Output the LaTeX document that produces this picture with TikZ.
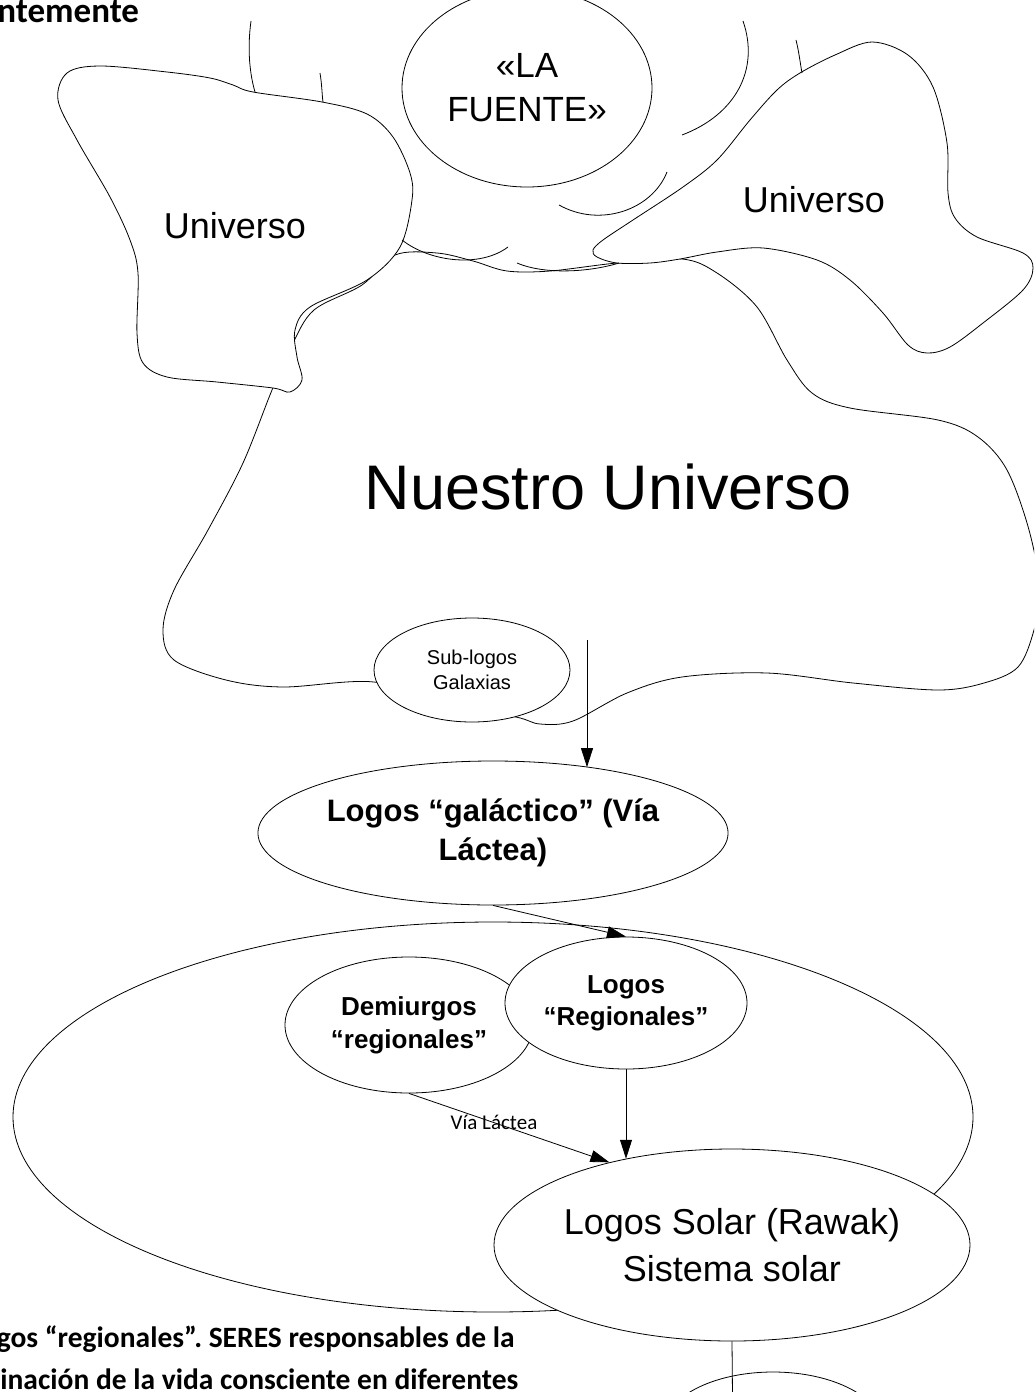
\documentclass[tikz,border=0pt]{standalone}
\usepackage{fontspec}
\setmainfont{Liberation Sans}
\newfontfamily\calib{Carlito}
\usetikzlibrary{shapes.geometric,arrows.meta}
\frenchspacing
\begin{document}
\begin{tikzpicture}[x=1pt,y=-1pt,line width=0.8pt,
  oval/.style={ellipse, draw, fill=white, inner sep=0pt, align=center},
  blob/.style={draw, fill=white},
  arr/.style={-{Triangle[length=19pt,width=12pt]}},
  bigtxt/.style={font=\fontsize{36}{40}\selectfont},
]
\useasboundingbox (0,0) rectangle (1034,1392);
\clip (0,0) rectangle (1034,1392);

% Nuestro Universo outline
\draw plot[smooth cycle, tension=0.55] coordinates {(395,255) (437,253) (473,261) (507,271) (550,271) (617,263) (682,259) (717,273) (757,307) (787,360) (812,393) (850,408) (938,420) (978,437) (1007,470) (1029,530) (1040,590) (1034,630) (1018,667) (984,683) (938,690) (853,683) (767,673) (682,677) (627,693) (573,721) (540,724) (516,717) (450,705) (374,682) (283,687) (226,680) (174,660) (163,630) (174,590) (208,530) (243,463) (272,390) (292,345) (314,310) (362,285)};

% left Universo
\draw[blob] plot[smooth cycle, tension=0.55] coordinates {(100,66) (167,72) (210,78) (233,85) (253,92) (322,102) (367,114) (393,137) (410,173) (412,200) (400,247) (367,280) (310,307) (295,330) (297,357) (302,380) (290,392) (273,388) (217,382) (167,377) (143,363) (137,333) (138,273) (130,240) (110,197) (77,140) (58,100) (67,73)};

% right Universo
\draw[blob] plot[smooth cycle, tension=0.55] coordinates {(800,73) (835,55) (872,42) (908,55) (933,87) (947,143) (948,193) (955,218) (977,237) (1023,253) (1033,268) (1023,290) (983,323) (950,347) (927,353) (908,345) (883,313) (850,280) (817,260) (763,248) (717,252) (680,259) (650,263) (617,263) (597,257) (593,250) (603,240) (633,220) (683,187) (717,160) (750,120) (777,90)};

% loose arcs around the source
\draw (251,21) .. controls (247,50) and (250,75) .. (255,92);
\draw (320,73) .. controls (322,85) and (322,95) .. (323,102);
\draw (796,40) .. controls (799,52) and (800,62) .. (802,73);
\draw (743,21) .. controls (760,70) and (735,115) .. (682,135);
\draw (667,172) .. controls (652,210) and (600,228) .. (559,205);
\draw (402,240) .. controls (430,262) and (480,268) .. (508,247);
\draw (517,263) .. controls (545,275) and (590,272) .. (619,263);

% nodes
\node[oval, minimum width=250pt, minimum height=198pt, font=\fontsize{35}{44}\selectfont] (fuente) at (527,88) {«LA\\FUENTE»};
\node[bigtxt] (uleft) at (235,226) {Universo};
\node[bigtxt] (uright) at (814,200) {Universo};
\node[font=\fontsize{63}{70}\selectfont] (nuestro) at (608,487) {Nuestro Universo};
\node[oval, minimum width=196pt, minimum height=104pt, font=\fontsize{20}{25}\selectfont] (sublogos) at (472,670) {Sub-logos\\Galaxias};
\coordinate (a0) at (587,640);
\node[oval, minimum width=416pt, minimum height=144pt, font=\bfseries\fontsize{31}{39}\selectfont] (galactico) at (493,833) {Logos “galáctico” (Vía\\Láctea)};
\node[ellipse, draw, inner sep=0pt, minimum width=960pt, minimum height=390pt] (via) at (493,1117) {};
\node[oval, minimum width=248pt, minimum height=136pt, font=\bfseries\fontsize{26}{33}\selectfont] (demiurgos) at (409,1025) {Demiurgos\\“regionales”};
\node[oval, minimum width=242pt, minimum height=132pt, font=\bfseries\fontsize{26}{32}\selectfont] (regionales) at (626,1003) {Logos\\“Regionales”};
\node[oval, minimum width=476pt, minimum height=192pt, font=\fontsize{36}{47}\selectfont] (solar) at (732,1245) {Logos Solar (Rawak)\\Sistema solar};
\node[ellipse, draw, inner sep=0pt, minimum width=220pt, minimum height=116pt] (next) at (773,1430) {};
\coordinate (a5) at (733,1450);

% connectors
\draw[arr] (a0) -- (a0 |- galactico.34);
\draw[arr] (galactico.south) -- (regionales.north);
\draw[arr] (regionales.south) -- (regionales.south |- solar.141);
\draw[arr] (demiurgos.south) -- (solar.146);
\node[font=\calib\fontsize{21}{24}\selectfont] (vialabel) at (494,1122) {Vía Láctea};
\draw[arr] (solar.south) -- (a5);

% cut-off page text
\node[anchor=base west, inner sep=0pt, font=\calib\bfseries\fontsize{35}{40}\selectfont] (title) at (-3,22) {ntemente};
\node[anchor=base east, inner sep=0pt, font=\calib\bfseries\fontsize{29.5}{34}\selectfont] (note1) at (515,1347) {gos “regionales”. SERES responsables de la};
\node[anchor=base west, inner sep=0pt, font=\calib\bfseries\fontsize{29.5}{34}\selectfont] (note2) at (0,1389) {inación de la vida consciente en diferentes};
\end{tikzpicture}
\end{document}
